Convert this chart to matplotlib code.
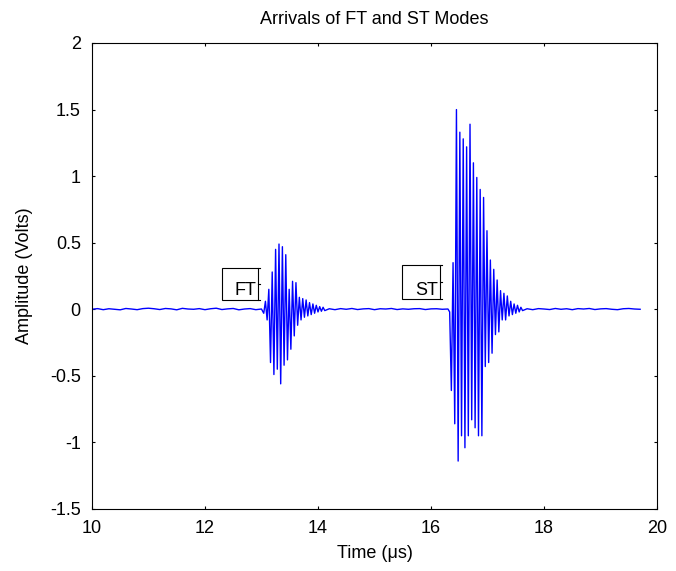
import numpy as np
import matplotlib
matplotlib.use("Agg")
import matplotlib.pyplot as plt
from matplotlib.patches import Rectangle

plt.rcParams['font.family'] = ['Liberation Sans', 'DejaVu Sans']

# baseline noise before the FT arrival (t = 10.0 .. 13.0, step 0.1)
pre_start, pre_step = 10.0, 0.1
pre_vals = [0.0, 0.005, -0.003, 0.004, 0.0, -0.004, 0.006, 0.002, -0.003, 0.005,
            0.008, 0.004, -0.002, 0.006, 0.003, -0.004, 0.007, 0.002, 0.0, 0.005,
            -0.003, 0.004, 0.008, -0.002, 0.003, 0.006, -0.004, 0.002, 0.005, -0.003,
            0.002]

# FT packet extremes (t = 13.04 .., step 0.03)
ft_start, ft_step = 13.04, 0.03
ft_vals = [-0.03, 0.06, -0.08, 0.15, -0.40, 0.28, -0.49, 0.45, -0.45, 0.49,
           -0.56, 0.47, -0.42, 0.41, -0.38, 0.15, -0.30, 0.21, -0.20, 0.20,
           -0.12, 0.09, -0.08, 0.08, -0.06, 0.07, -0.05, 0.05, -0.04, 0.04,
           -0.03, 0.03, -0.02, 0.02, -0.015, 0.015, -0.01]

# baseline between the two arrivals (t = 14.2 .. 16.3, step 0.1)
mid_start, mid_step = 14.2, 0.1
mid_vals = [0.004, -0.003, 0.005, 0.0, 0.006, -0.002, 0.003, 0.005, -0.003, 0.004,
            0.002, 0.006, -0.002, 0.003, 0.0, 0.004, 0.005, -0.002, 0.003, 0.004,
            0.0, 0.002]

# ST packet extremes (t = 16.33 .., step 0.03)
st_start, st_step = 16.33, 0.03
st_vals = [-0.02, -0.61, 0.35, -0.86, 1.50, -1.14, 1.33, -0.95, 1.28, -1.04,
           1.22, -0.95, 1.39, -0.83, 1.10, -0.89, 0.99, -0.95, 0.90, -0.95,
           0.84, -0.43, 0.59, -0.40, 0.37, -0.33, 0.30, -0.19, 0.22, -0.17,
           0.14, -0.08, 0.12, -0.08, 0.10, -0.05, 0.06, -0.04, 0.04, -0.03,
           0.03, -0.02, 0.015, -0.01]

# baseline after the ST arrival (t = 17.7 .. 19.7, step 0.1)
post_start, post_step = 17.7, 0.1
post_vals = [0.004, -0.003, 0.005, 0.002, -0.002, 0.006, 0.0, 0.004, -0.003, 0.005,
             0.002, 0.006, -0.002, 0.003, 0.005, 0.0, -0.003, 0.004, 0.006, 0.002,
             0.0]

ann_labels = ["FT", "ST"]
ann_x0 = [12.30, 15.49]
ann_x1 = [12.94, 16.16]
ann_y0 = [0.07, 0.075]
ann_y1 = [0.31, 0.33]


def seg(start, step, vals):
    t = start + step * np.arange(len(vals))
    return t, np.array(vals)


t_all = []
v_all = []
for s, d, v in [(pre_start, pre_step, pre_vals), (ft_start, ft_step, ft_vals),
                (mid_start, mid_step, mid_vals), (st_start, st_step, st_vals),
                (post_start, post_step, post_vals)]:
    t, y = seg(s, d, v)
    t_all.append(t)
    v_all.append(y)
t_all = np.concatenate(t_all)
v_all = np.concatenate(v_all)

fig = plt.figure(figsize=(6.76, 5.71), dpi=100)
ax = fig.add_axes([0.136, 0.1086, 0.836, 0.8161])
ax.plot(t_all, v_all, color=(0, 0, 1), lw=1.0)

for lab, x0, x1, y0, y1 in zip(ann_labels, ann_x0, ann_x1, ann_y0, ann_y1):
    ax.add_patch(Rectangle((x0, y0), x1 - x0, y1 - y0, fill=False,
                           edgecolor='black', lw=0.8))
    cap = 0.04
    for yy in (y0, (y0 + y1) / 2, y1):
        ax.plot([x1, x1 + cap], [yy, yy], color='black', lw=0.8)
    ax.text(x1 - 0.03, y0 + 0.005, lab, ha='right', va='bottom', fontsize=13)

ax.set_xlim(10, 20)
ax.set_ylim(-1.5, 2)
ax.set_xticks(np.arange(10, 21, 2))
ax.set_yticks(np.arange(-1.5, 2.01, 0.5))
ax.set_yticklabels(["-1.5", "-1", "-0.5", "0", "0.5", "1", "1.5", "2"])
ax.tick_params(direction='in', top=True, right=True, labelsize=13,
               length=2.5, width=0.8)
ax.tick_params(axis='x', pad=8)
ax.tick_params(axis='y', pad=8)
for sp in ax.spines.values():
    sp.set_linewidth(0.8)
ax.set_title("Arrivals of FT and ST Modes", fontsize=13, pad=14)
ax.set_xlabel("Time (\u03bcs)", fontsize=13, labelpad=6)
ax.set_ylabel("Amplitude (Volts)", fontsize=13, labelpad=12)

fig.savefig("out.png", dpi=100)
